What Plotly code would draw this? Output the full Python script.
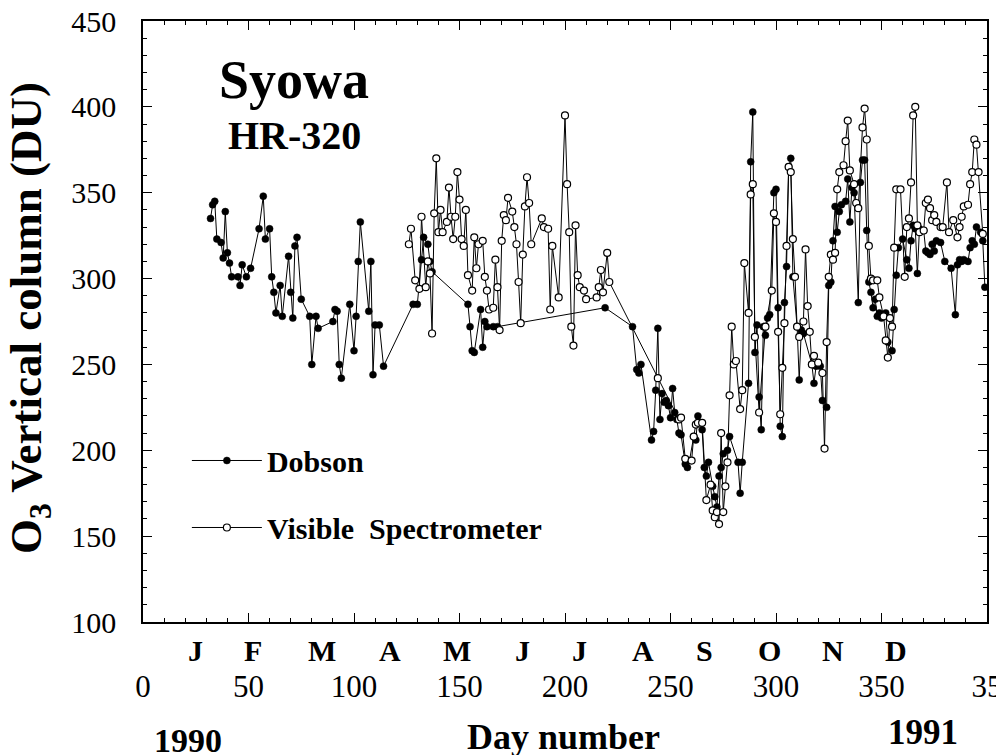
import plotly.graph_objects as go

# Syowa total ozone, day number (1990; days >365 run into 1991) vs DU
dobson = [(32,335),(33,343),(34,345),(35,323),(37,321),(38,312),(39,339),(40,315),(41,309),(42,301),
          (45,301),(46,296),(47,308),(49,301),(51,306),(55,329),(57,348),(58,323),(60,329),(61,301),
          (62,292),(63,280),(65,296),(66,278),(69,313),(70,292),(71,277),(72,319),(73,324),(75,288),
          (79,278),(80,250),(82,278),(83,271),(90,275),(91,282),(92,281),(93,250),(94,242),(98,285),
          (100,258),(101,278),(102,310),(103,333),(107,281),(108,310),(109,244),(110,273),(112,273),(114,249),
          (128,285),(130,285),(132,311),(133,324),(135,320),(136,310),(137,304),(154,285),(155,272),(156,258),
          (157,257),(160,282),(161,260),(162,275),(163,272),(166,272),(168,272),(219,283),(232,272),(234,247),
          (235,245),(236,250),(241,206),(242,211),(243,235),(244,271),(245,218),(246,233),(247,228),(248,229),
          (249,226),(250,219),(251,236),(252,222),(253,218),(254,210),(255,209),(257,192),(258,190),(259,194),
          (261,208),(262,206),(263,220),(265,212),(266,190),(267,185),(268,193),(270,179),(271,173),(272,167),
          (273,185),(274,190),(275,198),(277,200),(278,208),(282,193),(283,175),(284,193),(287,239),(288,368),
          (289,397),(290,257),(291,273),(292,231),(293,212),(294,272),(295,267),(296,277),(297,279),(299,350),
          (300,352),(301,283),(302,214),(303,208),(304,286),(305,307),(306,365),(307,370),(308,301),(310,272),
          (311,241),(312,270),(313,268),(317,250),(318,239),(319,249),(321,249),(322,229),(324,225),(325,296),
          (326,298),(327,322),(328,342),(329,327),(330,339),(331,343),(333,345),(334,358),(335,333),(336,353),
          (337,350),(339,286),(340,356),(341,369),(342,369),(343,328),(344,298),(345,292),(346,283),(347,288),
          (348,278),(349,280),(350,277),(352,280),(353,263),(355,258),(356,282),(357,302),(358,318),(360,323),
          (362,311),(363,306),(364,322),(365,331),(366,329),(367,303),(368,329),(370,328),(371,316),(372,315),
          (373,314),(374,320),(375,316),(376,322),(378,321),(380,310),(383,306),(385,279),(386,308),(387,311),
          (388,310),(389,311),(391,310),(392,318),(393,322),(394,320),(395,330),(397,327),(398,322),(399,295)]

visible = [(126,320),(127,329),(129,299),(131,294),(132,336),(134,295),(135,310),(136,303),(137,268),(138,338),
           (139,370),(140,327),(141,340),(142,327),(144,333),(145,353),(146,336),(147,323),(148,336),(149,362),
           (150,346),(151,323),(152,319),(153,340),(154,302),(156,293),(157,324),(158,306),(159,320),(161,322),
           (162,301),(163,293),(164,282),(166,283),(167,311),(168,295),(169,270),(170,322),(171,337),(172,334),
           (173,347),(175,339),(176,330),(177,320),(178,298),(179,274),(180,314),(181,342),(182,359),(183,344),
           (184,320),(189,335),(190,330),(192,329),(193,282),(194,319),(197,289),(200,395),(201,355),(202,327),
           (203,272),(204,261),(205,331),(206,302),(207,295),(209,293),(210,288),(215,289),(216,295),(217,305),
           (218,292),(220,315),(221,298),(244,242),(254,218),(255,219),(257,195),(260,194),(261,208),(262,215),
           (263,216),(265,216),(267,171),(269,180),(270,165),(271,161),(272,164),(273,157),(274,210),(275,164),
           (276,179),(277,193),(278,232),(279,272),(280,250),(281,252),(283,224),(284,235),(285,309),(287,280),
           (288,349),(289,355),(290,266),(292,222),(295,272),(298,293),(299,338),(300,333),(301,269),(302,221),
           (303,248),(304,274),(305,319),(306,365),(307,362),(308,323),(309,301),(310,272),(311,266),(313,275),
           (314,317),(315,284),(316,269),(317,250),(318,255),(320,251),(322,245),(323,201),(324,263),(325,301),
           (326,314),(327,311),(328,315),(329,352),(330,362),(332,366),(333,380),(334,392),(335,363),(337,355),
           (338,344),(339,341),(341,388),(342,399),(343,381),(344,319),(345,300),(346,299),(348,299),(349,289),
           (351,278),(352,264),(353,254),(354,277),(355,272),(356,318),(357,352),(359,352),(361,301),(362,330),
           (363,335),(364,356),(365,395),(366,400),(367,331),(368,327),(370,328),(371,344),(372,346),(373,341),
           (374,334),(375,337),(376,333),(378,330),(379,330),(381,356),(382,327),(384,334),(386,324),(387,330),
           (388,336),(389,342),(391,343),(392,355),(393,362),(394,381),(395,378),(396,362),(398,326)]

x_tick_vals = [0, 50, 100, 150, 200, 250, 300, 350, 400]
x_tick_text = ["0", "50", "100", "150", "200", "250", "300", "350", "35"]
month_letters = ["J", "F", "M", "A", "M", "J", "J", "A", "S", "O", "N", "D"]
month_pos = [25, 52, 85, 117, 149, 180, 207, 237, 266, 297, 327, 357]

SERIF = "Liberation Serif"

fig = go.Figure()
d_x, d_y = zip(*dobson)
v_x, v_y = zip(*visible)
fig.add_trace(go.Scatter(
    x=d_x, y=d_y, mode="lines+markers", name="Dobson", legendgroup="d",
    line=dict(color="black", width=1),
    marker=dict(symbol="circle", size=7, color="black", line=dict(color="black", width=0.5))))
fig.add_trace(go.Scatter(
    x=v_x, y=v_y, mode="lines+markers", name="Visible\u00a0\u00a0Spectrometer", legendgroup="v",
    line=dict(color="black", width=1),
    marker=dict(symbol="circle", size=7, color="white", line=dict(color="black", width=1.2))))

axis_common = dict(
    showline=True, linecolor="black", linewidth=1.5, mirror="allticks",
    ticks="inside", ticklen=9, tickwidth=1, tickcolor="black",
    showgrid=False, zeroline=False, automargin=False, ticklabeloverflow="allow",
)
fig.update_xaxes(range=[0, 400], tickvals=x_tick_vals, ticktext=x_tick_text,
                 ticklabelstandoff=36,
                 tickfont=dict(family=SERIF, size=31, color="black"),
                 minor=dict(dtick=10, ticks="inside", ticklen=4, tickcolor="black", showgrid=False),
                 **axis_common)
fig.update_yaxes(range=[100, 450], dtick=50, ticklabelstandoff=19,
                 tickfont=dict(family=SERIF, size=30, color="black"),
                 minor=dict(dtick=10, ticks="inside", ticklen=4, tickcolor="black", showgrid=False),
                 **axis_common)

ann = []
for m, p in zip(month_letters, month_pos):
    ann.append(dict(x=p, y=-0.048, xref="x", yref="paper", text=m, showarrow=False,
                    font=dict(family=SERIF, size=30, color="black", weight="bold"),
                    xanchor="center", yanchor="middle"))
ann += [
    dict(x=0.053, y=-0.198, xref="paper", yref="paper", text="1990", showarrow=False,
         font=dict(family=SERIF, size=34, color="black", weight="bold"), xanchor="center", yanchor="middle"),
    dict(x=0.498, y=-0.191, xref="paper", yref="paper", text="Day number", showarrow=False,
         font=dict(family=SERIF, size=36, color="black", weight="bold"), xanchor="center", yanchor="middle"),
    dict(x=0.924, y=-0.184, xref="paper", yref="paper", text="1991", showarrow=False,
         font=dict(family=SERIF, size=35, color="black", weight="bold"), xanchor="center", yanchor="middle"),
    dict(x=-0.135, y=0.506, xref="paper", yref="paper", text="O<sub>3</sub> Vertical column (DU)",
         showarrow=False, textangle=-90,
         font=dict(family=SERIF, size=45, color="black", weight="bold"), xanchor="center", yanchor="middle"),
    dict(x=0.179, y=0.902, xref="paper", yref="paper", text="Syowa", showarrow=False,
         font=dict(family=SERIF, size=54, color="black", weight="bold"), xanchor="center", yanchor="middle"),
    dict(x=0.179, y=0.81, xref="paper", yref="paper", text="HR-320", showarrow=False,
         font=dict(family=SERIF, size=40, color="black", weight="bold"), xanchor="center", yanchor="middle"),
]

# page body has an 8px margin: shrink the figure so the plot box lands at x 143-987, y 21-622
fig.update_layout(
    width=996, height=747,
    margin=dict(l=135, r=17, t=13, b=133),
    paper_bgcolor="white", plot_bgcolor="white",
    showlegend=True,
    legend=dict(x=0.052, y=0.312, xanchor="left", yanchor="top",
                bgcolor="rgba(0,0,0,0)", itemwidth=70, tracegroupgap=25,
                traceorder="grouped",
                font=dict(family=SERIF, size=30, color="black", weight="bold")),
    annotations=ann,
)

fig.write_html("out.html")
